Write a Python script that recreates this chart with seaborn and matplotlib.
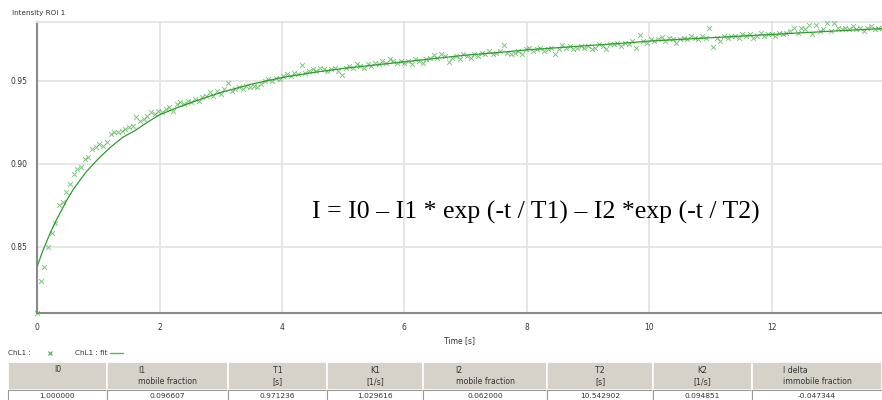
import numpy as np
import pandas as pd
import matplotlib
matplotlib.use('Agg')
import matplotlib.pyplot as plt
import seaborn as sns

# measured intensity, one sample every 0.06 s
dt = 0.06
intensity = [
    0.810, 0.829, 0.838, 0.850, 0.858, 0.864, 0.875, 0.877, 0.883, 0.888,
    0.894, 0.897, 0.898, 0.903, 0.904, 0.909, 0.910, 0.912, 0.911, 0.913,
    0.918, 0.919, 0.919, 0.920, 0.921, 0.922, 0.923, 0.928, 0.926, 0.927,
    0.929, 0.931, 0.930, 0.932, 0.931, 0.933, 0.934, 0.932, 0.936, 0.937,
    0.936, 0.938, 0.937, 0.939, 0.938, 0.940, 0.941, 0.943, 0.941, 0.944,
    0.942, 0.945, 0.9485, 0.944, 0.945, 0.946, 0.945, 0.947, 0.946, 0.947,
    0.946, 0.948, 0.950, 0.951, 0.950, 0.952, 0.951, 0.953, 0.954, 0.953,
    0.955, 0.954, 0.9596, 0.955, 0.956, 0.957, 0.956, 0.958, 0.957, 0.956,
    0.957, 0.958, 0.956, 0.9535, 0.958, 0.959, 0.958, 0.960, 0.959, 0.958,
    0.960, 0.959, 0.961, 0.960, 0.962, 0.961, 0.963, 0.962, 0.961, 0.962,
    0.961, 0.962, 0.960, 0.963, 0.962, 0.961, 0.963, 0.964, 0.9655, 0.964,
    0.966, 0.965, 0.9615, 0.964, 0.965, 0.963, 0.966, 0.965, 0.964, 0.966,
    0.965, 0.967, 0.966, 0.968, 0.966, 0.967, 0.968, 0.9717, 0.967, 0.966,
    0.967, 0.968, 0.966, 0.969, 0.970, 0.968, 0.969, 0.970, 0.968, 0.969,
    0.970, 0.966, 0.969, 0.9717, 0.970, 0.971, 0.969, 0.970, 0.971, 0.970,
    0.971, 0.969, 0.970, 0.972, 0.971, 0.969, 0.972, 0.9725, 0.973, 0.971,
    0.973, 0.972, 0.974, 0.970, 0.9777, 0.974, 0.973, 0.975, 0.974, 0.975,
    0.9765, 0.974, 0.976, 0.975, 0.9727, 0.975, 0.976, 0.975, 0.977, 0.976,
    0.975, 0.977, 0.976, 0.9818, 0.9705, 0.976, 0.974, 0.977, 0.976, 0.977,
    0.977, 0.976, 0.978, 0.977, 0.978, 0.976, 0.977, 0.979, 0.977, 0.978,
    0.978, 0.977, 0.979, 0.978, 0.979, 0.980, 0.982, 0.979, 0.982, 0.981,
    0.9837, 0.978, 0.9837, 0.980, 0.981, 0.985, 0.980, 0.985, 0.982, 0.981,
    0.982, 0.981, 0.983, 0.981, 0.982, 0.980, 0.982, 0.983, 0.981, 0.982,
    0.982,
]
time = np.arange(len(intensity)) * dt

# fitted curve
fit_t = [0.0, 0.1, 0.2, 0.3, 0.4, 0.5, 0.6, 0.7, 0.8, 0.9, 1.0, 1.2, 1.4, 1.6,
         1.8, 2.0, 2.3, 2.6, 3.0, 3.5, 4.0, 4.5, 5.0, 5.5, 6.0, 6.5, 7.0, 7.5,
         8.0, 8.5, 9.0, 9.5, 10.0, 10.5, 11.0, 11.5, 12.0, 12.5, 13.0, 13.5, 13.8]
fit_i = [0.838, 0.848, 0.857, 0.865, 0.872, 0.879, 0.885, 0.890, 0.895, 0.899,
         0.903, 0.910, 0.916, 0.920, 0.925, 0.9295, 0.934, 0.938, 0.943, 0.948,
         0.952, 0.955, 0.9575, 0.9595, 0.9615, 0.9635, 0.9655, 0.967, 0.9687,
         0.970, 0.9713, 0.9725, 0.974, 0.975, 0.976, 0.977, 0.978, 0.979,
         0.980, 0.981, 0.9815]

headers = ["I0", "I1\nmobile fraction", "T1\n[s]", "K1\n[1/s]",
           "I2\nmobile fraction", "T2\n[s]", "K2\n[1/s]", "I delta\nimmobile fraction"]
values = ["1.000000", "0.096607", "0.971236", "1.029616",
          "0.062000", "10.542902", "0.094851", "-0.047344"]

sns.set_style('white')
plt.rcParams['font.family'] = ['DejaVu Sans']

fig = plt.figure(figsize=(8.82, 4.0), dpi=100)
ax = fig.add_axes([0.042, 0.2175, 0.958, 0.7275])

df = pd.DataFrame({'t': time, 'I': intensity})
fit = pd.DataFrame({'t': fit_t, 'I': fit_i})

sns.scatterplot(data=df, x='t', y='I', marker='x', color='#45b045', s=12,
                linewidth=0.7, alpha=0.7, ax=ax, zorder=3, clip_on=False)
sns.lineplot(data=fit, x='t', y='I', color='#2f9c2f', linewidth=0.9, ax=ax, zorder=4)

ax.set_xlim(0, 13.8)
ax.set_ylim(0.810, 0.9855)
ax.set_xticks([0, 2, 4, 6, 8, 10, 12])
ax.set_yticks([0.85, 0.90, 0.95])
ax.set_yticklabels(['0.85', '0.90', '0.95'])
ax.grid(True, color='#e4e4e4', linewidth=1.3)
ax.set_axisbelow(True)
ax.spines['right'].set_visible(False)
ax.spines['top'].set_color('#e4e4e4')
ax.spines['top'].set_linewidth(1.3)
for side in ['left', 'bottom']:
    ax.spines[side].set_color('#8a8a8a')
    ax.spines[side].set_linewidth(1.5)
ax.tick_params(axis='both', labelsize=5.5, labelcolor='#333333', length=3,
               width=1, direction='out', pad=4, color='#8a8a8a')
ax.set_xlabel('Time [s]', fontsize=5.5, color='#333333', labelpad=3)
ax.set_ylabel('')

ax.text(0.325, 0.347, 'I = I0 – I1 * exp (-t / T1) – I2 *exp (-t / T2)',
        transform=ax.transAxes, family='Liberation Serif', fontsize=18.5,
        color='black', va='center', ha='left')

# overlay in pixel coordinates for caption, legend and table
ov = fig.add_axes([0, 0, 1, 1], zorder=5)
ov.set_xlim(0, 882)
ov.set_ylim(400, 0)
ov.axis('off')
ov.patch.set_alpha(0)

ov.text(12, 13, 'Intensity ROI 1', fontsize=5.2, color='#333333', va='center')

ov.text(8, 353, 'ChL1 :', fontsize=5.2, color='#333333', va='center')
ov.plot([50], [353], marker='x', color='#45b045', markersize=3.5, mew=0.8)
ov.text(75, 353, 'ChL1 : fit', fontsize=5.2, color='#333333', va='center')
ov.plot([110, 123], [353, 353], color='#55bb55', linewidth=1.0)

bounds = [8, 107, 228, 327, 423, 547, 653, 752, 882]
top, mid, bot = 362, 390, 410
for i in range(len(headers)):
    x0, x1 = bounds[i], bounds[i + 1]
    ov.add_patch(plt.Rectangle((x0, top), x1 - x0, mid - top,
                               facecolor='#d6d2ca', edgecolor='white', linewidth=1.2))
    ov.add_patch(plt.Rectangle((x0, mid), x1 - x0, bot - mid,
                               facecolor='white', edgecolor='#9a9a9a', linewidth=0.8))
    xc = (x0 + x1) / 2
    h = headers[i]
    if '\n' in h:
        ov.text(xc, 376, h, fontsize=5.6, color='#333333', ha='center', va='center',
                multialignment='left' if 'fraction' in h else 'center', linespacing=1.35)
    else:
        ov.text(xc, 369, h, fontsize=5.6, color='#333333', ha='center', va='center')
    ov.text(xc, 395.5, values[i], fontsize=5.4, color='#333333', ha='center', va='center')

fig.savefig('out.png', dpi=100)
